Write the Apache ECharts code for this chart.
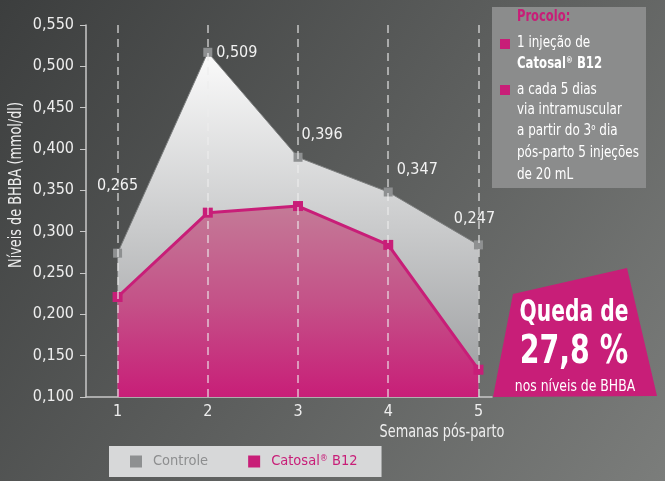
<!DOCTYPE html>
<html>
<head>
<meta charset="utf-8">
<script src="https://cdn.jsdelivr.net/npm/echarts@6/dist/echarts.min.js"></script>
<style>
  html, body { margin: 0; padding: 0; }
  #chart { width: 665px; height: 481px; }
</style>
</head>
<body>
<div id="chart"></div>
<script>
// dados
const semanas = [1, 2, 3, 4, 5];
const controle = [0.274, 0.517, 0.390, 0.348, 0.284];
const controleRotulos = ['0,265', '0,509', '0,396', '0,347', '0,247'];
const catosal = [0.221, 0.323, 0.331, 0.284, 0.133];
const protocolo = ['1 injeção de', 'Catosal® B12', 'a cada 5 dias', 'via intramuscular', 'a partir do 3º dia', 'pós-parto 5 injeções', 'de 20 mL'];

const FONT = "'DejaVu Sans Condensed', 'Liberation Sans Narrow', sans-serif";
const MAGENTA = '#c81e78';

let chart = echarts.init(document.getElementById('chart'));

// deslocamento dos rotulos (centro do texto - centro do marcador)
const offsets = [[0, -67], [29, 1], [24, -22], [29, -22], [-4, -26]];
const linhasY = [43, 64, 90, 110, 131, 153, 175];

let option = {
    backgroundColor: {
        type: 'linear', x: 0, y: 0, x2: 1, y2: 1,
        colorStops: [{offset: 0, color: '#3c3e3e'}, {offset: 1, color: '#7b7d7b'}]
    },
    textStyle: {fontFamily: FONT},
    animation: false,
    grid: {left: 86, right: 173, top: 25, bottom: 84},
    legend: {
        left: 109, top: 446,
        backgroundColor: '#d7d8d9',
        padding: [8, 24, 8, 21],
        itemWidth: 12, itemHeight: 12, itemGap: 40,
        icon: 'rect',
        textStyle: {fontSize: 14.5, fontFamily: FONT, padding: [0, 0, 0, 6],
            rich: {s: {fontSize: 9, verticalAlign: 'top', lineHeight: 10, padding: [0, 0, 6, 0]}}},
        formatter: function (name) {
            return name.replace('®', '{s|®}');
        },
        data: [
            {name: 'Controle', textStyle: {color: '#8d8e8f'}},
            {name: 'Catosal® B12', textStyle: {color: MAGENTA}}
        ]
    },
    xAxis: {
        type: 'value', min: 0.65, max: 5.15,
        axisLine: {lineStyle: {color: '#c8c8c8', width: 1.5}},
        axisTick: {show: false},
        splitLine: {show: false},
        axisLabel: {customValues: semanas, color: '#eeeeee', fontSize: 16, margin: 7, fontFamily: FONT}
    },
    yAxis: {
        type: 'value', min: 0.1, max: 0.55, interval: 0.05,
        axisLine: {show: true, lineStyle: {color: '#c8c8c8', width: 1.5}},
        axisTick: {show: true, length: 6, lineStyle: {color: '#c8c8c8'}},
        splitLine: {show: false},
        axisLabel: {
            color: '#eeeeee', fontSize: 16, margin: 12, fontFamily: FONT,
            formatter: v => v.toFixed(3).replace('.', ',')
        }
    },
    series: [
        {
            name: 'Controle',
            type: 'line',
            color: '#8e9091',
            symbol: 'rect', symbolSize: 9,
            lineStyle: {color: '#7d7f7f', width: 1},
            itemStyle: {color: '#8e9091'},
            areaStyle: {
                opacity: 1,
                color: {type: 'linear', x: 0, y: 0, x2: 0, y2: 1,
                    colorStops: [{offset: 0, color: '#fbfbfb'}, {offset: 1, color: '#9a9c9e'}]}
            },
            data: semanas.map((s, i) => ({
                value: [s, controle[i]],
                label: {
                    show: true, position: 'inside', offset: offsets[i],
                    formatter: controleRotulos[i],
                    color: '#f2f2f2', fontSize: 16, fontFamily: FONT
                }
            })),
            z: 2
        },
        {
            name: 'Catosal® B12',
            type: 'line',
            color: MAGENTA,
            symbol: 'rect', symbolSize: 10,
            lineStyle: {color: MAGENTA, width: 3},
            itemStyle: {color: MAGENTA},
            areaStyle: {
                opacity: 1,
                color: {type: 'linear', x: 0, y: 0, x2: 0, y2: 1,
                    colorStops: [{offset: 0, color: '#c47a97'}, {offset: 0.5, color: '#c45288'}, {offset: 1, color: MAGENTA}]}
            },
            data: semanas.map((s, i) => [s, catosal[i]]),
            markLine: {
                silent: true,
                symbol: 'none',
                label: {show: false},
                lineStyle: {color: 'rgba(236,236,236,0.75)', width: 1.5, type: [8, 6]},
                data: semanas.map(s => ({xAxis: s}))
            },
            z: 3
        }
    ],
    graphic: [
        {
            type: 'text', x: 17, y: 185, rotation: Math.PI / 2, scaleX: 0.84,
            style: {text: 'Níveis de BHBA (mmol/dl)', fill: '#eeeeee', font: '17px ' + FONT, align: 'center', verticalAlign: 'middle'}
        },
        {
            type: 'text', x: 442, y: 433, scaleX: 0.84,
            style: {text: 'Semanas pós-parto', fill: '#eeeeee', font: '17px ' + FONT, align: 'center', verticalAlign: 'middle'}
        },
        // caixa do protocolo
        {
            type: 'rect', shape: {x: 492, y: 7, width: 154, height: 181},
            style: {fill: '#8b8c8c'}
        },
        {
            type: 'text', x: 517, y: 17, scaleX: 0.8,
            style: {text: 'Procolo:', fill: MAGENTA, font: 'bold 16px ' + FONT, verticalAlign: 'middle'}
        },
        {type: 'rect', shape: {x: 500, y: 39, width: 10, height: 10}, style: {fill: MAGENTA}},
        {type: 'rect', shape: {x: 500, y: 85, width: 10, height: 10}, style: {fill: MAGENTA}},
        {
            type: 'group',
            children: protocolo.map((t, i) => ({
                type: 'text', x: 517, y: linhasY[i], scaleX: i === 1 ? 0.84 : 0.86,
                style: {
                    text: i === 1 ? '{b|Catosal}{sb|®}{b| B12}' : t.replace('º', '{s|o}'),
                    fill: '#ffffff', font: '15.5px ' + FONT, verticalAlign: 'middle',
                    rich: {
                        b: {fontWeight: 'bold', fontSize: 15.5, fill: '#ffffff', fontFamily: FONT},
                        sb: {fontWeight: 'bold', fontSize: 9, fill: '#ffffff', fontFamily: FONT, verticalAlign: 'top', padding: [0, 0, 7, 0]},
                        s: {fontSize: 9, fill: '#ffffff', fontFamily: FONT, verticalAlign: 'top', padding: [0, 0, 7, 0]}
                    }
                }
            }))
        },
        // selo de queda
        {
            type: 'polygon',
            shape: {points: [[513, 294], [627, 268], [657, 396], [493, 397]]},
            style: {fill: MAGENTA}
        },
        {
            type: 'text', x: 574, y: 313, scaleX: 0.75,
            style: {text: 'Queda de', fill: '#ffffff', font: 'bold 30px ' + FONT, align: 'center', verticalAlign: 'middle'}
        },
        {
            type: 'text', x: 574, y: 353, scaleX: 0.81,
            style: {text: '27,8 %', fill: '#ffffff', font: 'bold 39px ' + FONT, align: 'center', verticalAlign: 'middle'}
        },
        {
            type: 'text', x: 575, y: 387, scaleX: 0.92,
            style: {text: 'nos níveis de BHBA', fill: '#ffffff', font: '15px ' + FONT, align: 'center', verticalAlign: 'middle'}
        }
    ]
};

chart.setOption(option);
</script>
</body>
</html>
